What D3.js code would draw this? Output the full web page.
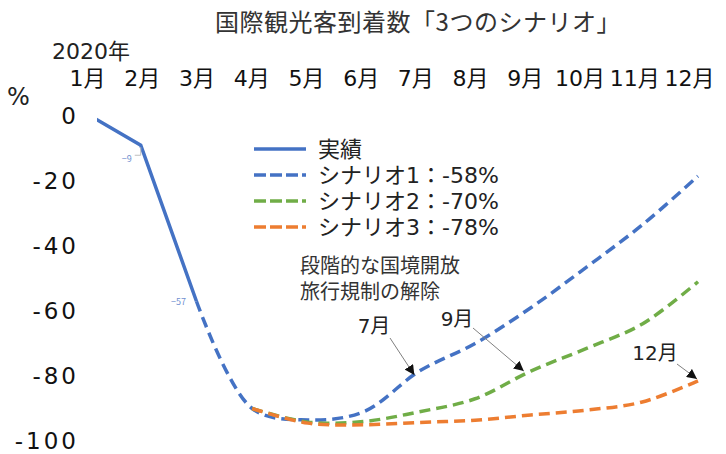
<!DOCTYPE html>
<html>
<head>
<meta charset="utf-8">
<script src="https://cdn.jsdelivr.net/npm/d3@7"></script>
<style>
  body { margin: 0; background: #fff; }
  svg text { font-family: "Noto Sans CJK JP", "Noto Sans", sans-serif; fill: #222; }
  svg text.num { font-family: "DejaVu Sans", "Noto Sans CJK JP", sans-serif; }
</style>
</head>
<body>
<svg id="chart" width="726" height="454"></svg>
<script>
// Monthly change in international tourist arrivals, 2020 (%)
const months = ["1月", "2月", "3月", "4月", "5月", "6月", "7月", "8月", "9月", "10月", "11月", "12月"];
const actual    = [1, -9, -57, null, null, null, null, null, null, null, null, null];
const scenario1 = [null, null, -57, -90, -93.5, -91, -78.5, -70, -59, -46.5, -33.5, -18.5];
const scenario2 = [null, null, null, -90, -94.2, -94, -91, -87, -78.5, -71.5, -64, -51];
const scenario3 = [null, null, null, -90, -94.5, -95, -94.3, -93.6, -92, -90.5, -88, -81.5];
const yTicks = [0, -20, -40, -60, -80, -100];
const legendLabels = ["実績", "シナリオ1：-58%", "シナリオ2：-70%", "シナリオ3：-78%"];
const labelledPoints = [{ month: "2月", value: -9 }, { month: "3月", value: -57 }];

const colors = { blue: "#4472C4", green: "#70AD47", orange: "#ED7D31" };

const svg = d3.select("#chart");

const x = d3.scalePoint(months, [85, 698]);
const y = d3.scaleLinear([0, -100], [116, 441]);
const monthAxisScale = d3.scalePoint(months, [87, 689]);

// Title and header texts
svg.append("text").attr("x", 418).attr("y", 31).attr("text-anchor", "middle")
  .style("font-size", "24px").style("letter-spacing", "0.5px").style("fill", "#333")
  .text("国際観光客到着数「3つのシナリオ」");
svg.append("text").attr("class", "num").attr("x", 52).attr("y", 59)
  .style("font-size", "22px").text("2020年");
svg.append("text").attr("class", "num").attr("x", 7).attr("y", 105).style("font-size", "24px").text("%");

// Month labels along the top
const monthAxis = svg.append("g").attr("transform", "translate(0,86)")
  .call(d3.axisTop(monthAxisScale).tickSize(0).tickPadding(0));
monthAxis.select(".domain").remove();
monthAxis.selectAll("text").attr("class", "num").attr("dy", 0)
  .style("font-size", "22px").style("fill", "#111");

// Value labels on the left
const yAxis = svg.append("g").attr("transform", "translate(79,0)")
  .call(d3.axisLeft(y).tickValues(yTicks).tickSize(0).tickPadding(0)
    .tickFormat(d => d === 0 ? "0" : "-" + Math.abs(d)));
yAxis.select(".domain").remove();
yAxis.selectAll("text").attr("class", "num").attr("dy", "0.32em")
  .style("font-size", "23px").style("letter-spacing", "3px").style("fill", "#111");

// Plot area clip
svg.append("clipPath").attr("id", "plot").append("rect")
  .attr("x", 97).attr("y", 90).attr("width", 629).attr("height", 364);

const plot = svg.append("g").attr("clip-path", "url(#plot)");

const straight = d3.line().defined(d => d != null).x((d, i) => x(months[i])).y(d => y(d));
const smooth = d3.line().defined(d => d != null).x((d, i) => x(months[i])).y(d => y(d))
  .curve(d3.curveCatmullRom.alpha(0.5));

plot.append("path").datum(actual).attr("d", straight)
  .attr("fill", "none").attr("stroke", colors.blue).attr("stroke-width", 3.5);

[[scenario1, colors.blue], [scenario2, colors.green], [scenario3, colors.orange]].forEach(([data, c]) => {
  plot.append("path").datum(data).attr("d", smooth)
    .attr("fill", "none").attr("stroke", c).attr("stroke-width", 3.5)
    .attr("stroke-dasharray", "11,6");
});

// Data labels on the actual line
const lbl = labelledPoints.map(p => ({ ...p, px: x(p.month), py: y(p.value) }));
svg.append("path")
  .attr("d", `M${lbl[0].px},${lbl[0].py + 2} V${lbl[0].py + 10} H${lbl[0].px - 6}`)
  .attr("fill", "none").attr("stroke", "#bfbfbf").attr("stroke-width", 1);
svg.append("text").attr("x", lbl[0].px - 14).attr("y", lbl[0].py + 17).attr("text-anchor", "middle")
  .style("font-size", "9px").style("fill", "#6f8fd0").text(String(lbl[0].value).replace("-", "−"));
svg.append("text").attr("x", lbl[1].px - 18).attr("y", lbl[1].py + 4).attr("text-anchor", "middle")
  .style("font-size", "9px").style("fill", "#6f8fd0").text(String(lbl[1].value).replace("-", "−"));

// Legend
const legend = svg.append("g");
const legendRows = [
  { label: legendLabels[0], color: colors.blue, dash: null, y: 149 },
  { label: legendLabels[1], color: colors.blue, dash: "12,4", y: 175 },
  { label: legendLabels[2], color: colors.green, dash: "12,4", y: 201 },
  { label: legendLabels[3], color: colors.orange, dash: "12,4", y: 227 }
];
legendRows.forEach(r => {
  legend.append("line").attr("x1", 254).attr("x2", 306).attr("y1", r.y).attr("y2", r.y)
    .attr("stroke", r.color).attr("stroke-width", 3.5).attr("stroke-dasharray", r.dash);
  legend.append("text").attr("class", "num").attr("x", 318).attr("y", r.y).attr("dy", "0.36em")
    .style("font-size", "22px").text(r.label);
});

// Reopening annotation
svg.append("text").attr("x", 300).attr("y", 273).style("font-size", "20px").style("fill", "#333").text("段階的な国境開放");
svg.append("text").attr("x", 300).attr("y", 299).style("font-size", "20px").style("fill", "#333").text("旅行規制の解除");

// Arrow callouts pointing at the month each scenario reopens
svg.append("defs").append("marker").attr("id", "arrow").attr("viewBox", "0 0 10 10")
  .attr("refX", 10).attr("refY", 5).attr("markerWidth", 10).attr("markerHeight", 10)
  .attr("markerUnits", "userSpaceOnUse").attr("orient", "auto")
  .append("path").attr("d", "M0,0 L10,5 L0,10 Z").attr("fill", "#111");

const callouts = [
  { text: "7月", series: scenario1, month: "7月", lx: 374, ly: 333, sx: 390, sy: 338, dx: -5, dy: 4 },
  { text: "9月", series: scenario2, month: "9月", lx: 457, ly: 326, sx: 473, sy: 328, dx: -7, dy: 0 },
  { text: "12月", series: scenario3, month: "12月", lx: 655, ly: 360, sx: 677, sy: 364, dx: -1, dy: -2 }
];
callouts.forEach(c => {
  const i = months.indexOf(c.month);
  const tx = x(c.month) + c.dx, ty = y(c.series[i]) + c.dy;
  svg.append("line").attr("x1", c.sx).attr("y1", c.sy).attr("x2", tx).attr("y2", ty)
    .attr("stroke", "#808080").attr("stroke-width", 1).attr("marker-end", "url(#arrow)");
  svg.append("text").attr("class", "num").attr("x", c.lx).attr("y", c.ly).attr("text-anchor", "middle")
    .style("font-size", "20px").text(c.text);
});
</script>
</body>
</html>
